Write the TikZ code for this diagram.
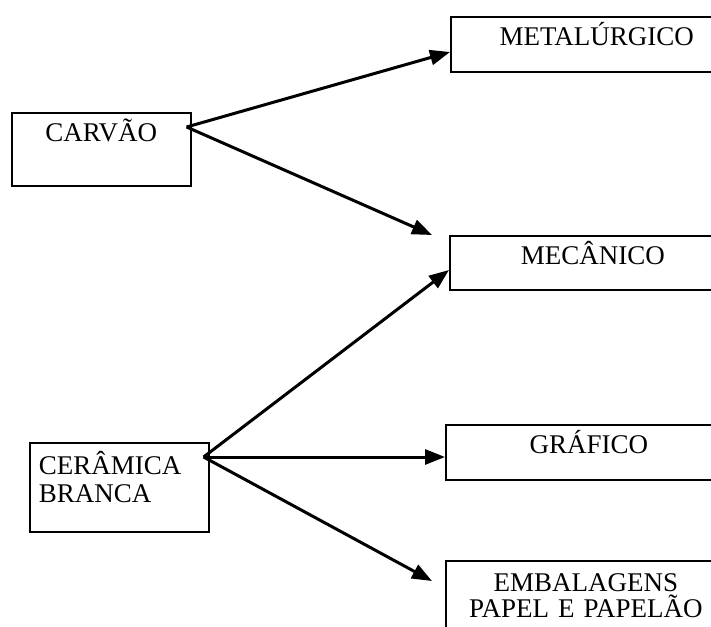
\documentclass[tikz,border=0pt]{standalone}
\usepackage{fontspec}
\setmainfont{Liberation Serif}
\usepackage{tikz}
\usetikzlibrary{positioning, arrows.meta, calc}

\begin{document}
\begin{tikzpicture}[x=1pt, y=-1pt, blk/.style={draw, line width=1.6pt, anchor=north west, inner xsep=0pt, inner ysep=11pt, text height=18pt, font=\fontsize{27}{28}\selectfont}, arr/.style={line width=3pt, -{Triangle[length=20pt, width=15pt]}}]
\useasboundingbox (0,0) rectangle (711,626);
\clip (0,0) rectangle (711,626);
\node[blk, minimum width=179pt, text depth=33pt] (carvao) at (11,112) {CARVÃO};
\node[blk, text width=161pt, inner xsep=9pt, inner ysep=14pt, align=left, text depth=43pt] (ceramica) at (29,442) {CERÂMICA\\BRANCA};
\node[blk, minimum width=292pt, text depth=15pt] (metalurgico) at (450,16) {METALÚRGICO};
\node[blk, minimum width=286pt, text depth=14pt] (mecanico) at (449,235) {MECÂNICO};
\node[blk, minimum width=286pt, text depth=15pt] (grafico) at (445,424) {GRÁFICO};
\node[blk, text width=280pt, inner ysep=13pt, align=center, font=\fontsize{27}{26}\selectfont, text depth=50pt] (embalagens) at (445,560) {EMBALAGENS\\PAPEL E PAPELÃO};
\coordinate (carOut) at ([xshift=-5pt, yshift=-15pt]carvao.north east);
\coordinate (cerOut) at ([xshift=-6pt, yshift=-15pt]ceramica.north east);
\coordinate (mecStop) at ([xshift=-17pt]mecanico.north west);
\coordinate (embStop) at ([xshift=-13pt, yshift=-21pt]embalagens.north west);
\draw[arr] (carOut) -- ([yshift=-36pt]metalurgico.north west);
\draw[arr] (carOut) -- (mecStop);
\draw[arr] (cerOut) -- ([yshift=-35pt]mecanico.north west);
\draw[arr] (cerOut) -- (cerOut -| grafico.west);
\draw[arr] (cerOut) -- (embStop);
\end{tikzpicture}
\end{document}
